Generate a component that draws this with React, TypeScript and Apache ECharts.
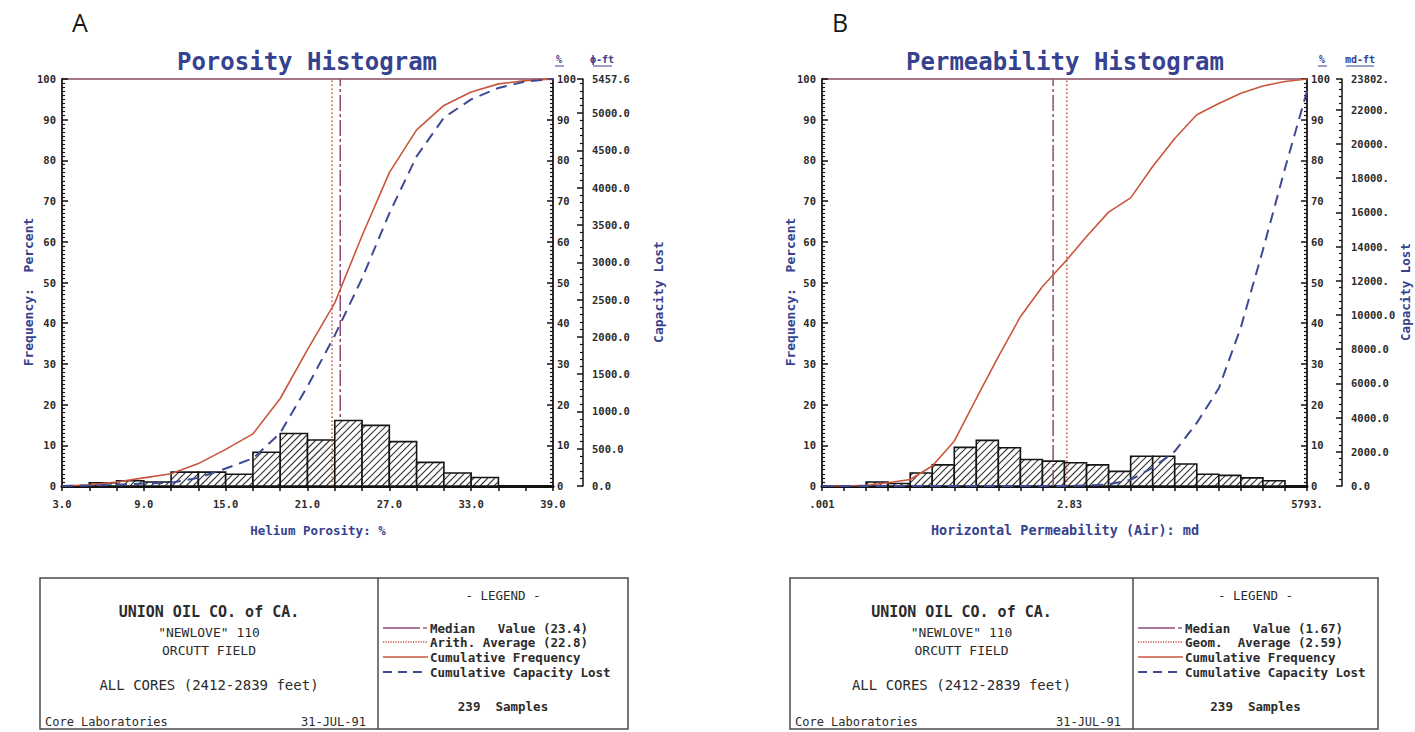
import React, { useEffect, useRef } from "react";
import * as echarts from "echarts";

// ---------------- data ----------------
// Panel A: porosity histogram (bins of 2 %, 3.0 .. 39.0)
const porosityEdges = [3, 5, 7, 9, 11, 13, 15, 17, 19, 21, 23, 25, 27, 29, 31, 33, 35, 37, 39];
const porosityFreq = [0, 0.8, 1.3, 1.0, 3.4, 3.4, 2.9, 8.3, 12.9, 11.3, 16.1, 14.9, 10.9, 5.8, 3.2, 2.1, 0, 0];
const porosityCumFreq = [0, 0.3, 1.0, 2.0, 3.0, 5.5, 9.0, 12.8, 21.5, 33.5, 45.0, 61.5, 77.0, 87.5, 93.5, 96.8, 98.8, 99.6, 100];
const porosityCumCap = [0, 0.1, 0.3, 0.6, 0.8, 2.0, 4.3, 6.8, 13.0, 24.5, 37.0, 51.0, 67.0, 81.0, 90.5, 95.0, 97.8, 99.4, 100];
const porosityXLabelValues = [3, 9, 15, 21, 27, 33, 39];
const porosityMedian = 23.4;
const porosityAverage = 22.8;
const porosityCapMax = 5457.6;
const porosityCapInterval = 500;

// Panel B: permeability histogram (22 equal log bins, .001 .. 5793 md)
const permMin = 0.001;
const permMax = 5793;
const permBinCount = 22;
const permFreq = [0, 0, 1.0, 0.6, 3.2, 5.2, 9.5, 11.2, 9.4, 6.5, 6.1, 5.7, 5.2, 3.6, 7.3, 7.3, 5.4, 2.9, 2.6, 2.0, 1.3, 0];
const permCumFreq = [0, 0, 0.2, 0.8, 1.6, 4.9, 11.0, 21.5, 31.8, 41.6, 49.0, 54.9, 61.3, 67.3, 70.8, 78.5, 85.4, 91.2, 94.0, 96.5, 98.3, 99.4, 100];
const permCumCap = [0, 0, 0, 0, 0, 0, 0, 0, 0, 0, 0, 0, 0.1, 0.4, 1.5, 4.5, 8.5, 15.5, 24.0, 39.0, 58.0, 78.0, 97.0];
const permXLabelValues = [0.001, 2.83, 5793];
const permXLabelTexts = [".001", "2.83", "5793."];
const permMedian = 1.67;
const permGeomAverage = 2.59;
const permCapMax = 23802;
const permCapInterval = 2000;

// ---------------- styling ----------------
const BLUE = "#36428f";
const RED = "#c9563c";
const DASHBLUE = "#3f4a93";
const MEDIAN = "#8e4a72";
const AVG = "#c4513a";
const FRAME = "#8a4b60";
const INK = "#2b2b2b";
const MONO = "'DejaVu Sans Mono', 'Liberation Mono', monospace";

const permEdges = Array.from({ length: permBinCount + 1 }, (_, i) =>
  permMin * Math.pow(permMax / permMin, i / permBinCount)
);

function hatchRenderItem(params: any, api: any) {
  const x0 = api.value(0);
  const x1 = api.value(1);
  const h = api.value(2);
  if (!(h > 0)) return null;
  const p0 = api.coord([x0, 0]);
  const p1 = api.coord([x1, h]);
  const left = p0[0];
  const right = p1[0];
  const bottom = p0[1];
  const top = p1[1];
  const children: any[] = [
    {
      type: "rect",
      shape: { x: left, y: top, width: right - left, height: bottom - top },
      style: { fill: "#ffffff", stroke: "none" },
    },
  ];
  const s = 7;
  const cMin = left + top;
  const cMax = right + bottom;
  for (let c = Math.ceil(cMin / s) * s; c <= cMax; c += s) {
    const xa = Math.max(left, c - bottom);
    const xb = Math.min(right, c - top);
    if (xb - xa < 0.4) continue;
    children.push({
      type: "line",
      shape: { x1: xa, y1: c - xa, x2: xb, y2: c - xb },
      style: { stroke: "#333", lineWidth: 1.1 },
    });
  }
  children.push({
    type: "rect",
    shape: { x: left, y: top, width: right - left, height: bottom - top },
    style: { fill: "none", stroke: "#151515", lineWidth: 1.6 },
  });
  return { type: "group", children };
}

const tickLabel = {
  color: INK,
  fontFamily: MONO,
  fontWeight: "bold" as const,
  fontSize: 10.5,
};

function buildPanel(idx: number, cfg: any) {
  const grid = {
    left: cfg.left,
    top: 79,
    width: cfg.width,
    height: 407,
    show: true,
    borderColor: FRAME,
    borderWidth: 1.5,
    backgroundColor: "transparent",
  };
  const xAxis = {
    gridIndex: idx,
    type: cfg.logX ? "log" : "value",
    logBase: 10,
    min: cfg.xMin,
    max: cfg.xMax,
    axisLine: { show: true, onZero: false, lineStyle: { color: "#111", width: 3 } },
    axisTick: {
      show: true,
      customValues: cfg.edges,
      length: 5,
      lineStyle: { color: "#111", width: 1.5 },
    },
    minorTick: { show: false },
    splitLine: { show: false },
    axisLabel: {
      ...tickLabel,
      customValues: cfg.xLabelValues,
      formatter: cfg.xFormatter,
      margin: 12,
      showMinLabel: true,
      showMaxLabel: true,
    },
  };
  const pctAxis = (position: "left" | "right") => ({
    gridIndex: idx,
    type: "value",
    min: 0,
    max: 100,
    interval: 10,
    position,
    axisLine: { show: true, onZero: false, lineStyle: { color: "#111", width: 1.5 } },
    axisTick: { show: true, inside: true, length: 6, lineStyle: { color: "#111", width: 1.5 } },
    minorTick: { show: true, splitNumber: 10, length: 3, lineStyle: { color: "#111", width: 1.2 } },
    splitLine: { show: false },
    axisLabel: { ...tickLabel, margin: position === "left" ? 6 : 4 },
  });
  const capAxis = {
    gridIndex: idx,
    type: "value",
    min: 0,
    max: cfg.capMax,
    interval: cfg.capInterval,
    position: "right",
    offset: cfg.capOffset,
    axisLine: { show: true, onZero: false, lineStyle: { color: "#111", width: 1.5 } },
    axisTick: { show: true, inside: true, length: 6, lineStyle: { color: "#111", width: 1.5 } },
    minorTick: { show: true, splitNumber: 5, length: 3, lineStyle: { color: "#111", width: 1.2 } },
    splitLine: { show: false },
    axisLabel: {
      ...tickLabel,
      margin: 9,
      showMinLabel: true,
      showMaxLabel: true,
      formatter: cfg.capFormatter,
    },
  };
  const xi = idx;
  const yi = idx * 3;
  const series: any[] = [
    {
      type: "line",
      xAxisIndex: xi,
      yAxisIndex: yi,
      data: [
        [cfg.median, 0],
        [cfg.median, 100],
      ],
      symbol: "none",
      silent: true,
      z: cfg.medianOnTop ? 5 : 1,
      lineStyle: { color: MEDIAN, width: 1.5, type: [16, 3, 3, 3] },
    },
    {
      type: "custom",
      xAxisIndex: xi,
      yAxisIndex: yi,
      renderItem: hatchRenderItem,
      data: cfg.freq.map((h: number, i: number) => [cfg.edges[i], cfg.edges[i + 1], h]),
      encode: { x: [0, 1], y: 2 },
      silent: true,
      z: 3,
    },
    {
      type: "line",
      xAxisIndex: xi,
      yAxisIndex: yi,
      data: [
        [cfg.average, 0],
        [cfg.average, 100],
      ],
      symbol: "none",
      silent: true,
      z: 5,
      lineStyle: { color: AVG, width: 1.5, type: [1.5, 2.5] },
    },
    {
      type: "line",
      xAxisIndex: xi,
      yAxisIndex: yi,
      data: cfg.edges.map((x: number, i: number) => [x, cfg.cumFreq[i]]),
      symbol: "none",
      silent: true,
      z: 6,
      lineStyle: { color: RED, width: 1.6 },
    },
    {
      type: "line",
      xAxisIndex: xi,
      yAxisIndex: yi,
      data: cfg.edges.map((x: number, i: number) => [x, cfg.cumCap[i]]),
      symbol: "none",
      silent: true,
      z: 6,
      lineStyle: { color: DASHBLUE, width: 2, type: [11, 7] },
    },
  ];
  return { grid, xAxis, yAxis: [pctAxis("left"), pctAxis("right"), capAxis], series };
}

function txt(x: number, y: number, text: string, size: number, opts: any = {}) {
  return {
    type: "text",
    x,
    y,
    rotation: opts.rotation || 0,
    silent: true,
    style: {
      text,
      fill: opts.color || INK,
      font: `${opts.weight || "bold"} ${size}px ${opts.family || MONO}`,
      textAlign: opts.align || "center",
      textVerticalAlign: "middle",
      align: opts.align || "center",
      verticalAlign: "middle",
    },
  };
}

function hline(x1: number, x2: number, y: number, color: string, width: number, dash?: number[]) {
  return {
    type: "line",
    silent: true,
    shape: { x1, y1: y, x2, y2: y },
    style: { stroke: color, lineWidth: width, lineDash: dash || null },
  };
}

function legendBox(x0: number, x1: number, div: number, rows: string[]) {
  const top = 578;
  const bottom = 729;
  const lc = (x0 + div) / 2;
  const rc = (div + x1) / 2;
  const sx0 = div + 5;
  const sx1 = div + 50;
  const tx = div + 52;
  const ry = [628, 642, 657, 672];
  return [
    {
      type: "rect",
      silent: true,
      shape: { x: x0, y: top, width: x1 - x0, height: bottom - top },
      style: { fill: "none", stroke: "#4a4a4a", lineWidth: 1.5 },
    },
    {
      type: "line",
      silent: true,
      shape: { x1: div, y1: top, x2: div, y2: bottom },
      style: { stroke: "#4a4a4a", lineWidth: 1.5 },
    },
    txt(lc, 612, "UNION OIL CO. of CA.", 15),
    txt(lc, 632, '"NEWLOVE" 110', 13, { weight: "normal" }),
    txt(lc, 650, "ORCUTT FIELD", 13, { weight: "normal" }),
    txt(lc, 685, "ALL CORES (2412-2839 feet)", 14, { weight: "normal" }),
    txt(x0 + 5, 722, "Core Laboratories", 12, { align: "left", weight: "normal" }),
    txt(div - 12, 722, "31-JUL-91", 12, { align: "right", weight: "normal" }),
    txt(rc, 595, "- LEGEND -", 12.5, { weight: "normal" }),
    hline(sx0, sx1 - 8, ry[0], MEDIAN, 1.3),
    hline(sx1 - 5, sx1 - 1, ry[0], MEDIAN, 1.3),
    hline(sx0, sx1, ry[1], AVG, 1.3, [1.2, 1.3]),
    hline(sx0, sx1, ry[2], RED, 1.6),
    hline(sx0, sx1, ry[3], DASHBLUE, 2, [9, 6]),
    txt(tx, ry[0], rows[0], 12.5, { align: "left" }),
    txt(tx, ry[1], rows[1], 12.5, { align: "left" }),
    txt(tx, ry[2], rows[2], 12.5, { align: "left" }),
    txt(tx, ry[3], rows[3], 12.5, { align: "left" }),
    txt(rc, 706, "239  Samples", 12.5),
  ];
}

export default function App() {
  const ref = useRef<HTMLDivElement>(null);
  useEffect(() => {
    if (!ref.current) return;
    const chart = echarts.init(ref.current, undefined, { renderer: "svg" });
    const a = buildPanel(0, {
      left: 62,
      width: 491,
      logX: false,
      xMin: 3,
      xMax: 39,
      edges: porosityEdges,
      freq: porosityFreq,
      cumFreq: porosityCumFreq,
      cumCap: porosityCumCap,
      xLabelValues: porosityXLabelValues,
      xFormatter: (v: number) => Number(v).toFixed(1),
      median: porosityMedian,
      average: porosityAverage,
      medianOnTop: false,
      capMax: porosityCapMax,
      capInterval: porosityCapInterval,
      capOffset: 30,
      capFormatter: (v: number) => Number(v).toFixed(1),
    });
    const b = buildPanel(1, {
      left: 822,
      width: 485,
      logX: true,
      xMin: permMin,
      xMax: permMax,
      edges: permEdges,
      freq: permFreq,
      cumFreq: permCumFreq,
      cumCap: permCumCap,
      xLabelValues: permXLabelValues,
      xFormatter: (v: number) => {
        let best = 0;
        for (let i = 1; i < permXLabelValues.length; i++) {
          if (Math.abs(Math.log(v / permXLabelValues[i])) < Math.abs(Math.log(v / permXLabelValues[best]))) best = i;
        }
        return permXLabelTexts[best];
      },
      median: permMedian,
      average: permGeomAverage,
      medianOnTop: true,
      capMax: permCapMax,
      capInterval: permCapInterval,
      capOffset: 35,
      capFormatter: (v: number) => (v >= 11000 ? `${Math.round(v)}.` : Number(v).toFixed(1)),
    });

    const graphic: any[] = [
      txt(80, 22, "A", 25, { weight: "normal", family: "'Open Sans', sans-serif", color: "#1a1a1a" }),
      txt(840, 22, "B", 25, { weight: "normal", family: "'Open Sans', sans-serif", color: "#1a1a1a" }),
      txt(307, 62, "Porosity Histogram", 24, { color: BLUE }),
      txt(1065, 62, "Permeability Histogram", 24, { color: BLUE }),
      txt(28, 292, "Frequency:  Percent", 13, { color: BLUE, rotation: Math.PI / 2 }),
      txt(790, 292, "Frequency:  Percent", 13, { color: BLUE, rotation: Math.PI / 2 }),
      txt(658, 292, "Capacity Lost", 13, { color: BLUE, rotation: Math.PI / 2 }),
      txt(1405, 292, "Capacity Lost", 12.5, { color: BLUE, rotation: Math.PI / 2 }),
      txt(318, 530, "Helium Porosity: %", 12.5, { color: BLUE }),
      txt(1065, 530, "Horizontal Permeability (Air): md", 13.5, { color: BLUE }),
      txt(559, 59, "%", 10, { color: BLUE }),
      hline(555, 564, 66, BLUE, 1),
      txt(602, 59, "\u03d5-ft", 10, { color: BLUE }),
      hline(593, 612, 66, BLUE, 1),
      txt(1322, 59, "%", 10, { color: BLUE }),
      hline(1318, 1327, 66, BLUE, 1),
      txt(1360, 59, "md-ft", 10, { color: BLUE }),
      hline(1346, 1374, 66, BLUE, 1),
      ...legendBox(40, 628, 378, [
        "Median   Value (23.4)",
        "Arith. Average (22.8)",
        "Cumulative Frequency",
        "Cumulative Capacity Lost",
      ]),
      ...legendBox(790, 1378, 1133, [
        "Median   Value (1.67)",
        "Geom.  Average (2.59)",
        "Cumulative Frequency",
        "Cumulative Capacity Lost",
      ]),
    ];

    chart.setOption({
      animation: false,
      backgroundColor: "#ffffff",
      grid: [a.grid, b.grid],
      xAxis: [a.xAxis, b.xAxis],
      yAxis: [...a.yAxis, ...b.yAxis],
      series: [...a.series, ...b.series],
      graphic,
    });
    return () => chart.dispose();
  }, []);
  return (
    <div
      ref={ref}
      style={{ position: "fixed", left: 0, top: 0, width: 1415, height: 732, background: "#fff" }}
    />
  );
}
